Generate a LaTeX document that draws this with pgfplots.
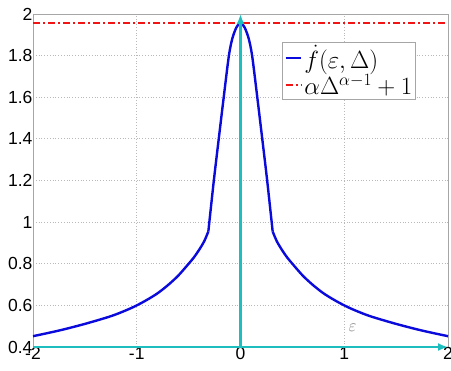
\documentclass[border=0pt]{standalone}
\usepackage{fontspec}
\setmainfont{Liberation Sans}
\usepackage{pgfplots}
\pgfplotsset{compat=1.18}
\usetikzlibrary{arrows.meta}
\definecolor{myblue}{RGB}{10,10,220}
\definecolor{myred}{RGB}{240,20,20}
\definecolor{mycyan}{RGB}{30,190,190}
\begin{document}
\begin{tikzpicture}
\begin{axis}[
  scale only axis,
  width=415pt, height=333pt,
  xmin=-2, xmax=2, ymin=0.4, ymax=2,
  xtick={-2,-1,0,1,2},
  ytick={0.4,0.6,0.8,1,1.2,1.4,1.6,1.8,2},
  yticklabels={0.4,0.6,0.8,1,1.2,1.4,1.6,1.8,2},
  grid=major,
  grid style={line width=0.8pt, dotted, gray!55},
  axis line style={gray!70, line width=0.8pt},
  tick style={draw=none},
  tick label style={font=\fontsize{17.5}{19}\selectfont},
  /pgf/number format/assume math mode=true,
  xticklabel style={yshift=3pt},
  yticklabel style={xshift=3pt},
  legend style={at={(0.601,0.917)}, anchor=north west, draw=gray!70, line width=0.8pt,
    font=\fontsize{23}{25}\selectfont, inner sep=1.5pt, row sep=0pt,
    legend cell align=left},
  legend image code/.code={\draw[#1] (0cm,0cm) -- (0.55cm,0cm);},
  clip=false,
]
\addplot[draw=myblue, line width=2.4pt, smooth] coordinates {
(-2.0,0.452) (-1.75,0.479) (-1.5,0.511) (-1.25,0.548) (-1.1,0.577) (-1.0,0.600)
(-0.9,0.627) (-0.8,0.658) (-0.7,0.697) (-0.6,0.743) (-0.5,0.800) (-0.45,0.830)
(-0.4,0.866) (-0.35,0.908) (-0.31,0.955)
};
\addlegendentry{$\dot f(\varepsilon,\Delta)$}
\addplot[draw=myred, line width=2pt, dash pattern=on 7pt off 3pt on 2pt off 3pt] coordinates {(-2,1.958) (2,1.958)};
\addlegendentry{$\alpha\Delta^{\alpha-1}+1$}
\addplot[draw=myblue, line width=2.4pt, smooth, forget plot] coordinates {
(-0.31,0.955) (-0.257,1.20) (-0.209,1.403) (-0.161,1.603) (-0.113,1.796)
(-0.08,1.88) (-0.04,1.935) (0,1.958)
(0.04,1.935) (0.08,1.88) (0.113,1.796)
(0.161,1.603) (0.209,1.403) (0.257,1.20) (0.31,0.955)
};
\addplot[draw=myblue, line width=2.4pt, smooth, forget plot] coordinates {
(0.31,0.955) (0.35,0.908) (0.4,0.866) (0.45,0.830) (0.5,0.800) (0.6,0.743)
(0.7,0.697) (0.8,0.658) (0.9,0.627) (1.0,0.600) (1.1,0.577) (1.25,0.548)
(1.5,0.511) (1.75,0.479) (2.0,0.452)
};
\addplot[draw=mycyan, line width=2.2pt, -{Latex[length=10pt,width=8pt]}, forget plot] coordinates {(-2,0.4) (2,0.4)};
\addplot[draw=mycyan, line width=2.2pt, -{Latex[length=10pt,width=8pt]}, forget plot] coordinates {(0,0.4) (0,2)};
\node[gray, font=\fontsize{19}{20}\selectfont] at (axis cs:1.08,0.49) {$\varepsilon$};
\end{axis}
\pgfresetboundingbox
\path ([xshift=-33pt,yshift=-23pt]current axis.south west) rectangle ([xshift=3pt,yshift=14pt]current axis.north east);
\end{tikzpicture}
\end{document}
